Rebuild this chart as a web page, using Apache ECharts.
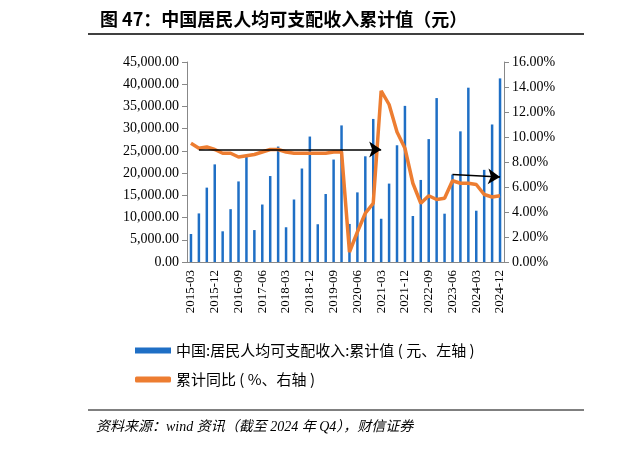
<!DOCTYPE html>
<html><head><meta charset="utf-8">
<script src="https://cdn.jsdelivr.net/npm/echarts@6/dist/echarts.min.js"></script>
<style>body{margin:0;background:#fff}#c{width:623px;height:449px}</style></head>
<body><div id="c"></div>
<script>
const years=[2015,2016,2017,2018,2019,2020,2021,2022,2023,2024];
const months=['03','06','09','12'];
const categories=[];years.forEach(y=>months.forEach(m=>categories.push(y+'-'+m)));
const income=[6301,10931,16734,21966,6906,11886,18129,23821,7184,12932,19342,25974,7815,14063,21035,28228,8493,15294,23049,30733,8561,15666,23781,32189,9730,17642,26265,35128,10345,18463,27650,36883,10870,19672,29398,39218,11539,20733,30941,41314];
const growth=[9.5,9.1,9.2,9.0,8.7,8.7,8.4,8.5,8.6,8.8,9.0,9.0,8.8,8.7,8.7,8.7,8.7,8.7,8.8,8.8,0.8,2.4,3.9,4.7,13.7,12.6,10.4,9.1,6.3,4.7,5.3,5.0,5.1,6.5,6.3,6.3,6.2,5.4,5.2,5.3];
const serif='"Liberation Serif","Times New Roman",serif';
const ch=echarts.init(document.getElementById('c'));
ch.setOption({
 animation:false,
 title:{text:'图 47：中国居民人均可支配收入累计值（元）',left:95,top:5,textStyle:{fontSize:18,fontWeight:'bold',color:'#000',fontFamily:'"Noto Sans CJK SC",'+serif}},
 graphic:[
  {type:'line',shape:{x1:88,y1:34,x2:584,y2:34},style:{stroke:'#000',lineWidth:1.5}},
  {type:'line',shape:{x1:88,y1:410,x2:584,y2:410},style:{stroke:'#000',lineWidth:1}},
  {type:'text',left:96,top:420,style:{text:'资料来源：wind 资讯（截至 2024 年 Q4），财信证券',font:'italic 14px "Liberation Serif","Noto Sans CJK SC"',fill:'#000'}}
 ],
 legend:{orient:'vertical',left:130,top:338,itemGap:14,itemWidth:36,itemHeight:6,textStyle:{fontSize:15,color:'#000',fontFamily:'"Noto Sans CJK SC",sans-serif'},
  data:[{name:'中国:居民人均可支配收入:累计值 ( 元、左轴 )',icon:'rect'},{name:'累计同比 ( %、右轴 )',icon:'roundRect'}]},
 grid:{left:187,right:119,top:62,bottom:187},
 xAxis:{type:'category',data:categories,axisTick:{show:false},axisLine:{lineStyle:{color:'#888'}},
  axisLabel:{rotate:90,interval:2,fontSize:13,color:'#000',fontFamily:serif}},
 yAxis:[
  {type:'value',min:0,max:45000,interval:5000,splitLine:{show:false},axisLine:{show:true,lineStyle:{color:'#888'}},axisTick:{show:true},
   axisLabel:{fontSize:14,color:'#000',fontFamily:serif,formatter:v=>v.toLocaleString('en-US',{minimumFractionDigits:2})}},
  {type:'value',min:0,max:16,interval:2,splitLine:{show:false},axisLine:{show:true,lineStyle:{color:'#888'}},axisTick:{show:true},
   axisLabel:{fontSize:14,color:'#000',fontFamily:serif,formatter:v=>v.toFixed(2)+'%'}}
 ],
 series:[
  {name:'中国:居民人均可支配收入:累计值 ( 元、左轴 )',type:'bar',data:income,barWidth:2.5,itemStyle:{color:'#1F6FC5'}},
  {name:'累计同比 ( %、右轴 )',type:'line',yAxisIndex:1,data:growth,symbol:'none',lineStyle:{color:'#ED7D31',width:3.5},itemStyle:{color:'#ED7D31'},
   markLine:{silent:true,symbol:['none','arrow'],symbolSize:12,label:{show:false},lineStyle:{color:'#000',width:1.5,type:'solid'},
    data:[[{coord:['2015-06',9.0]},{coord:['2021-03',9.0]}],[{coord:['2023-06',7.0]},{coord:['2024-12',6.8]}]]}}
 ]
});
</script></body></html>
